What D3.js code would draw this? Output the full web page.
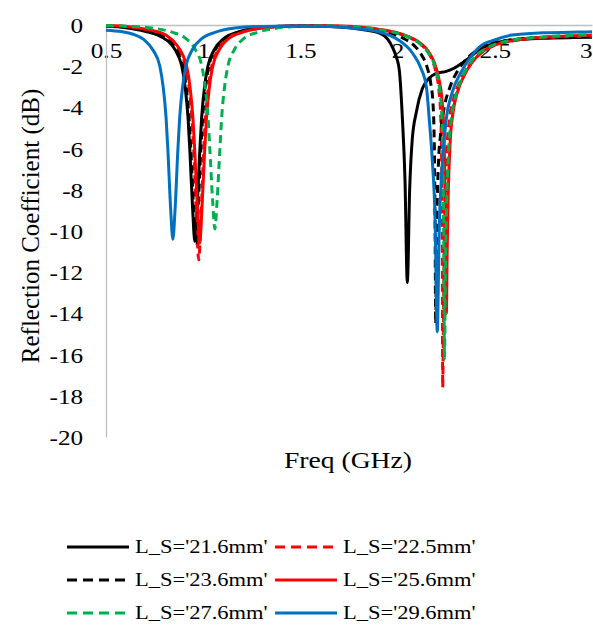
<!DOCTYPE html>
<html>
<head>
<meta charset="utf-8">
<script src="https://cdn.jsdelivr.net/npm/d3@7"></script>
<style>
  body { margin: 0; background: #fff; }
  svg { display: block; }
</style>
</head>
<body>
<script>
// tick labels / axes
const xTicks = [0.5, 1, 1.5, 2, 2.5, 3];
const yTicks = [0, -2, -4, -6, -8, -10, -12, -14, -16, -18, -20];

const seriesNames = ["L_S='21.6mm'", "L_S='22.5mm'", "L_S='23.6mm'", "L_S='25.6mm'", "L_S='27.6mm'", "L_S='29.6mm'"];
const seriesColors = ["#000000", "#ff0000", "#000000", "#ff0000", "#00b050", "#0070c0"];
const seriesDashed = [false, true, true, false, true, false];

// [freq GHz, dB]
const ls216 = [[0.5,-0.05],[0.6,-0.13],[0.7,-0.3],[0.78,-0.55],[0.837,-0.95],[0.872,-1.5],[0.89,-2],[0.907,-3],[0.922,-4.5],[0.931,-6],[0.946,-9],[0.957,-10.5],[0.968,-9],[0.983,-6],[0.992,-4.5],[1.007,-3],[1.024,-2],[1.057,-1.2],[1.107,-0.65],[1.177,-0.35],[1.277,-0.15],[1.4,-0.06],[1.55,-0.05],[1.7,-0.1],[1.8,-0.2],[1.907,-0.39],[1.95,-0.7],[1.973,-1.07],[1.995,-1.6],[2.009,-2.2],[2.025,-4.6],[2.038,-7.5],[2.05,-12.5],[2.062,-8],[2.075,-5.6],[2.097,-4.2],[2.127,-3.1],[2.16,-2.6],[2.199,-2.35],[2.25,-2.25],[2.29,-2.1],[2.333,-1.84],[2.38,-1.5],[2.42,-1.2],[2.507,-0.87],[2.6,-0.72],[2.75,-0.64],[2.9,-0.61],[3.0,-0.6]];
const ls225 = [[0.5,-0.03],[0.62,-0.1],[0.72,-0.25],[0.8,-0.5],[0.857,-0.95],[0.892,-1.5],[0.91,-2],[0.927,-3],[0.942,-4.5],[0.951,-6],[0.966,-9.5],[0.977,-11.4],[0.988,-9.5],[1.003,-6],[1.012,-4.5],[1.027,-3],[1.044,-2],[1.077,-1.2],[1.127,-0.65],[1.197,-0.35],[1.297,-0.15],[1.42,-0.06],[1.55,-0.04],[1.7,-0.06],[1.8,-0.12],[1.9,-0.22],[1.99,-0.38],[2.06,-0.6],[2.11,-0.87],[2.15,-1.25],[2.18,-1.75],[2.2,-2.4],[2.213,-3.2],[2.222,-4.5],[2.227,-7],[2.23,-11],[2.232,-17.6],[2.237,-13],[2.244,-9],[2.253,-6.2],[2.268,-4.5],[2.29,-3.5],[2.317,-2.8],[2.35,-2.2],[2.384,-1.75],[2.43,-1.35],[2.47,-1.1],[2.53,-0.88],[2.6,-0.75],[2.75,-0.62],[2.9,-0.56],[3.0,-0.54]];
const ls236 = [[0.5,-0.04],[0.61,-0.12],[0.71,-0.28],[0.79,-0.55],[0.845,-0.95],[0.877,-1.5],[0.895,-2],[0.912,-3],[0.927,-4.5],[0.936,-6],[0.951,-9],[0.962,-10.6],[0.973,-9],[0.988,-6],[0.997,-4.5],[1.012,-3],[1.029,-2],[1.062,-1.2],[1.112,-0.65],[1.182,-0.35],[1.282,-0.15],[1.41,-0.06],[1.55,-0.04],[1.7,-0.07],[1.8,-0.14],[1.9,-0.26],[1.97,-0.42],[2.03,-0.65],[2.08,-0.95],[2.12,-1.4],[2.15,-2.0],[2.17,-2.8],[2.182,-3.8],[2.189,-6],[2.193,-10],[2.196,-14.5],[2.201,-10],[2.209,-7],[2.222,-5.2],[2.24,-4.0],[2.27,-3.0],[2.31,-2.2],[2.36,-1.6],[2.42,-1.15],[2.5,-0.85],[2.6,-0.7],[2.75,-0.6],[2.9,-0.56],[3.0,-0.55]];
const ls256 = [[0.5,-0.03],[0.63,-0.1],[0.73,-0.25],[0.81,-0.5],[0.862,-0.95],[0.897,-1.5],[0.915,-2],[0.932,-3],[0.947,-4.5],[0.956,-6],[0.971,-9],[0.982,-10.6],[0.993,-9],[1.008,-6],[1.017,-4.5],[1.032,-3],[1.049,-2],[1.082,-1.2],[1.132,-0.65],[1.202,-0.35],[1.302,-0.15],[1.43,-0.06],[1.55,-0.04],[1.7,-0.05],[1.8,-0.1],[1.9,-0.2],[2.0,-0.38],[2.07,-0.62],[2.12,-0.9],[2.16,-1.3],[2.19,-1.85],[2.212,-2.6],[2.228,-3.6],[2.238,-5.2],[2.244,-8],[2.248,-11.5],[2.251,-14],[2.255,-11],[2.261,-8],[2.271,-5.6],[2.286,-4.2],[2.31,-3.2],[2.34,-2.5],[2.38,-1.85],[2.43,-1.35],[2.5,-0.98],[2.6,-0.75],[2.75,-0.6],[2.9,-0.52],[3.0,-0.5]];
const ls276 = [[0.5,-0.02],[0.61,-0.06],[0.74,-0.15],[0.84,-0.35],[0.91,-0.65],[0.96,-1.2],[0.993,-2],[1.01,-3],[1.025,-4.5],[1.034,-6],[1.049,-8.6],[1.06,-9.9],[1.071,-8.6],[1.086,-6],[1.095,-4.5],[1.11,-3],[1.127,-2],[1.16,-1.2],[1.21,-0.65],[1.28,-0.35],[1.38,-0.15],[1.51,-0.06],[1.62,-0.04],[1.75,-0.08],[1.85,-0.15],[1.99,-0.38],[2.06,-0.6],[2.11,-0.87],[2.15,-1.25],[2.18,-1.7],[2.2,-2.3],[2.215,-3.0],[2.227,-4.4],[2.234,-7],[2.238,-11],[2.241,-16.2],[2.246,-12],[2.253,-8.5],[2.263,-6],[2.277,-4.5],[2.3,-3.4],[2.33,-2.6],[2.384,-1.7],[2.47,-1.07],[2.59,-0.73],[2.75,-0.58],[2.93,-0.49],[3.0,-0.48]];
const ls296 = [[0.5,-0.25],[0.58,-0.32],[0.64,-0.45],[0.694,-0.7],[0.744,-1.25],[0.777,-2],[0.794,-3],[0.809,-4.5],[0.818,-6],[0.833,-9],[0.844,-10.4],[0.855,-9],[0.87,-6],[0.879,-4.5],[0.894,-3],[0.911,-2],[0.944,-1.2],[0.994,-0.65],[1.064,-0.35],[1.164,-0.15],[1.3,-0.07],[1.5,-0.05],[1.65,-0.07],[1.8,-0.18],[1.907,-0.34],[2.0,-0.7],[2.076,-1.36],[2.12,-2.1],[2.148,-3.0],[2.163,-4.6],[2.178,-6.5],[2.193,-9.5],[2.204,-14.9],[2.214,-10],[2.228,-7],[2.25,-4.6],[2.28,-3.3],[2.333,-2.18],[2.38,-1.5],[2.42,-1.07],[2.5,-0.72],[2.59,-0.49],[2.75,-0.38],[2.933,-0.34],[3.0,-0.33]];

const allSeries = [ls216, ls225, ls236, ls256, ls276, ls296];

const FONT = "'Liberation Serif', Tinos, 'Times New Roman', 'DejaVu Serif', serif";
const W = 593, H = 635;
const x = d3.scaleLinear().domain([0.5, 3]).range([106, 592]);
const y = d3.scaleLinear().domain([0, -20]).range([25, 437]);

const svg = d3.select("body").append("svg")
    .attr("width", W)
    .attr("height", H)
    .attr("font-family", FONT);

svg.append("rect").attr("width", W).attr("height", H).attr("fill", "#fff");

// x axis sits on the 0 dB line, labels hang below it
const xAxis = svg.append("g")
    .attr("transform", "translate(0," + y(0) + ")")
    .call(d3.axisBottom(x).tickValues(xTicks).tickSize(0).tickSizeOuter(0).tickPadding(18).tickFormat(d => String(d)));

const yAxis = svg.append("g")
    .attr("transform", "translate(" + x(0.5) + ",0)")
    .call(d3.axisLeft(y).tickValues(yTicks).tickSize(0).tickSizeOuter(0).tickPadding(19).tickFormat(d => String(d)));

[xAxis, yAxis].forEach(a => {
    a.attr("font-family", FONT).attr("font-size", 21);
    a.select(".domain").attr("stroke", "#bfbfbf").attr("stroke-width", 1.3);
    a.selectAll("text").attr("fill", "#000");
});
xAxis.selectAll("text")
    .attr("transform", "scale(1.2,1)")
    .attr("text-anchor", d => d === 3 ? "end" : "middle");
yAxis.selectAll("text").attr("transform", "scale(1.2,1)").attr("dy", "0.36em");

const line = d3.line()
    .x(d => x(d[0]))
    .y(d => y(d[1]))
    .curve(d3.curveMonotoneX);

svg.append("g").selectAll("path")
    .data(allSeries)
    .enter()
    .append("path")
    .attr("d", line)
    .attr("fill", "none")
    .attr("stroke", (d, i) => seriesColors[i])
    .attr("stroke-width", 3)
    .attr("stroke-dasharray", (d, i) => seriesDashed[i] ? "8,5" : null)
    .attr("stroke-linejoin", "round");

// axis titles
svg.append("text")
    .attr("transform", "translate(30,226) rotate(-90)")
    .attr("text-anchor", "middle")
    .attr("dy", "0.35em")
    .attr("font-size", 25)
    .text("Reflection Coefficient (dB)");

svg.append("text")
    .attr("transform", "translate(348,468) scale(1.15,1)")
    .attr("text-anchor", "middle")
    .attr("font-size", 24)
    .text("Freq (GHz)");

// legend, 2 columns x 3 rows
const legend = svg.selectAll(".legend")
    .data(seriesNames)
    .enter()
    .append("g")
    .attr("class", "legend")
    .attr("transform", (d, i) => "translate(" + (i % 2 === 0 ? 67 : 275) + "," + (547 + Math.floor(i / 2) * 33) + ")");

legend.append("line")
    .attr("x1", 0)
    .attr("x2", 62)
    .attr("stroke", (d, i) => seriesColors[i])
    .attr("stroke-width", 3)
    .attr("stroke-dasharray", (d, i) => seriesDashed[i] ? "10,6" : null);

legend.append("text")
    .attr("transform", "translate(68,0) scale(1.25,1)")
    .attr("dy", "0.35em")
    .attr("font-size", 18)
    .text(d => d);
</script>
</body>
</html>
